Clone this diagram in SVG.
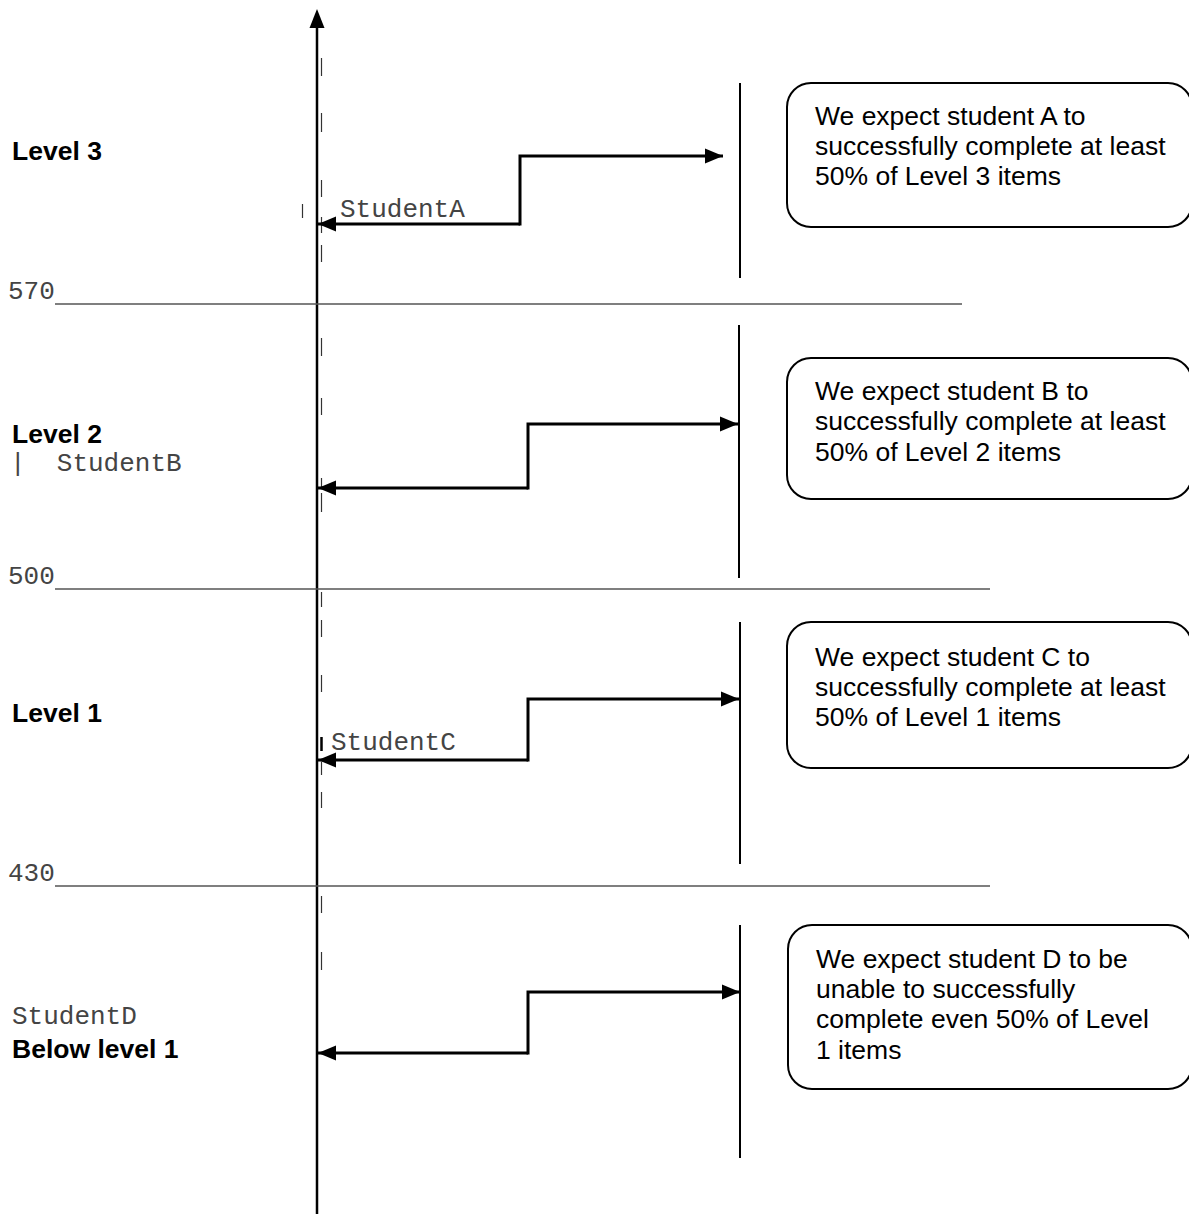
<svg xmlns="http://www.w3.org/2000/svg" width="1189" height="1214" viewBox="0 0 1189 1214">
<defs>
<marker id="ah" markerUnits="userSpaceOnUse" markerWidth="20" markerHeight="18" refX="18" refY="9" orient="auto">
<path d="M0,1.5 L18,9 L0,16.5 Z" fill="#000"/>
</marker>
</defs>
<style>
.bold{font-family:"Liberation Sans",Arial,sans-serif;font-weight:bold;font-size:26.5px;fill:#000}
.box{font-family:"Liberation Sans",Arial,sans-serif;font-size:26.5px;fill:#000}
.mono{font-family:"Liberation Mono","Courier New",monospace;font-size:26px;fill:#444}
.rule{stroke:#555;stroke-width:1.5}
.bar{stroke:#000;stroke-width:2}
.mark{stroke:#333;stroke-width:1.2}
.conn{fill:none;stroke:#000;stroke-width:3}
.node rect{fill:#fff;stroke:#000;stroke-width:2}
</style>
<rect width="1189" height="1214" fill="#fff"/>

<!-- axis -->
<g id="axis">
<line x1="317" y1="24" x2="317" y2="1214" stroke="#000" stroke-width="2.5"/>
<path d="M317,9 L309.5,28 L324.5,28 Z" fill="#000"/>
</g>

<!-- dashed marks near axis -->
<g id="marks">
<line class="mark" x1="321.5" y1="58" x2="321.5" y2="76"/>
<line class="mark" x1="321.5" y1="113" x2="321.5" y2="132"/>
<line class="mark" x1="321.5" y1="180" x2="321.5" y2="197"/>
<line class="mark" x1="321.5" y1="217" x2="321.5" y2="233"/>
<line class="mark" x1="321.5" y1="245" x2="321.5" y2="262"/>
<line class="mark" x1="302.5" y1="204" x2="302.5" y2="218"/>
<line class="mark" x1="321.5" y1="338" x2="321.5" y2="356"/>
<line class="mark" x1="321.5" y1="398" x2="321.5" y2="415"/>
<line class="mark" x1="321.5" y1="478" x2="321.5" y2="487"/>
<line class="mark" x1="321.5" y1="493" x2="321.5" y2="512"/>
<line class="mark" x1="321.5" y1="592" x2="321.5" y2="607"/>
<line class="mark" x1="321.5" y1="620" x2="321.5" y2="637"/>
<line class="mark" x1="321.5" y1="675" x2="321.5" y2="692"/>
<line x1="321.5" y1="737" x2="321.5" y2="751" stroke="#000" stroke-width="2.5"/>
<line class="mark" x1="321.5" y1="762" x2="321.5" y2="775"/>
<line class="mark" x1="321.5" y1="792" x2="321.5" y2="808"/>
<line class="mark" x1="321.5" y1="896" x2="321.5" y2="913"/>
<line class="mark" x1="321.5" y1="952" x2="321.5" y2="970"/>
</g>

<!-- level rules -->
<g id="rules">
<text class="mono" x="8" y="299">570</text>
<line class="rule" x1="55" y1="304" x2="962" y2="304"/>
<text class="mono" x="8" y="584">500</text>
<line class="rule" x1="55" y1="589" x2="990" y2="589"/>
<text class="mono" x="8" y="881">430</text>
<line class="rule" x1="55" y1="886" x2="990" y2="886"/>
</g>

<!-- left labels -->
<g id="labels">
<text class="bold" x="12" y="160">Level 3</text>
<text class="bold" x="12" y="443">Level 2</text>
<text class="mono" x="10" y="471" xml:space="preserve">|  StudentB</text>
<text class="bold" x="12" y="722">Level 1</text>
<text class="mono" x="12" y="1024">StudentD</text>
<text class="bold" x="12" y="1058">Below level 1</text>
<text class="mono" x="340" y="217">StudentA</text>
<text class="mono" x="331" y="750">StudentC</text>
</g>

<!-- right bars -->
<g id="bars">
<line class="bar" x1="740" y1="83" x2="740" y2="278"/>
<line class="bar" x1="739" y1="325" x2="739" y2="578"/>
<line class="bar" x1="740" y1="622" x2="740" y2="864"/>
<line class="bar" x1="740" y1="925" x2="740" y2="1158"/>
</g>

<!-- connectors -->
<g id="connectors">
<path class="conn" d="M520,224 L318,224" marker-end="url(#ah)"/>
<path class="conn" d="M520,225.5 L520,156 L723,156" marker-end="url(#ah)"/>
<path class="conn" d="M528,488 L318,488" marker-end="url(#ah)"/>
<path class="conn" d="M528,489.5 L528,424 L738,424" marker-end="url(#ah)"/>
<path class="conn" d="M528,760 L318,760" marker-end="url(#ah)"/>
<path class="conn" d="M528,761.5 L528,699 L739,699" marker-end="url(#ah)"/>
<path class="conn" d="M528,1053 L318,1053" marker-end="url(#ah)"/>
<path class="conn" d="M528,1054.5 L528,992 L740,992" marker-end="url(#ah)"/>
</g>

<!-- boxes -->
<g id="boxA" class="node">
<rect x="787" y="83" width="405" height="144" rx="24"/>
<text class="box" x="815" y="125">We expect student A to</text>
<text class="box" x="815" y="155">successfully complete at least</text>
<text class="box" x="815" y="185">50% of Level 3 items</text>
</g>
<g id="boxB" class="node">
<rect x="787" y="358" width="405" height="141" rx="24"/>
<text class="box" x="815" y="400">We expect student B to</text>
<text class="box" x="815" y="430">successfully complete at least</text>
<text class="box" x="815" y="461">50% of Level 2 items</text>
</g>
<g id="boxC" class="node">
<rect x="787" y="622" width="405" height="146" rx="24"/>
<text class="box" x="815" y="666">We expect student C to</text>
<text class="box" x="815" y="696">successfully complete at least</text>
<text class="box" x="815" y="726">50% of Level 1 items</text>
</g>
<g id="boxD" class="node">
<rect x="788" y="925" width="404" height="164" rx="24"/>
<text class="box" x="816" y="968">We expect student D to be</text>
<text class="box" x="816" y="998">unable to successfully</text>
<text class="box" x="816" y="1028">complete even 50% of Level</text>
<text class="box" x="816" y="1059">1 items</text>
</g>
</svg>
